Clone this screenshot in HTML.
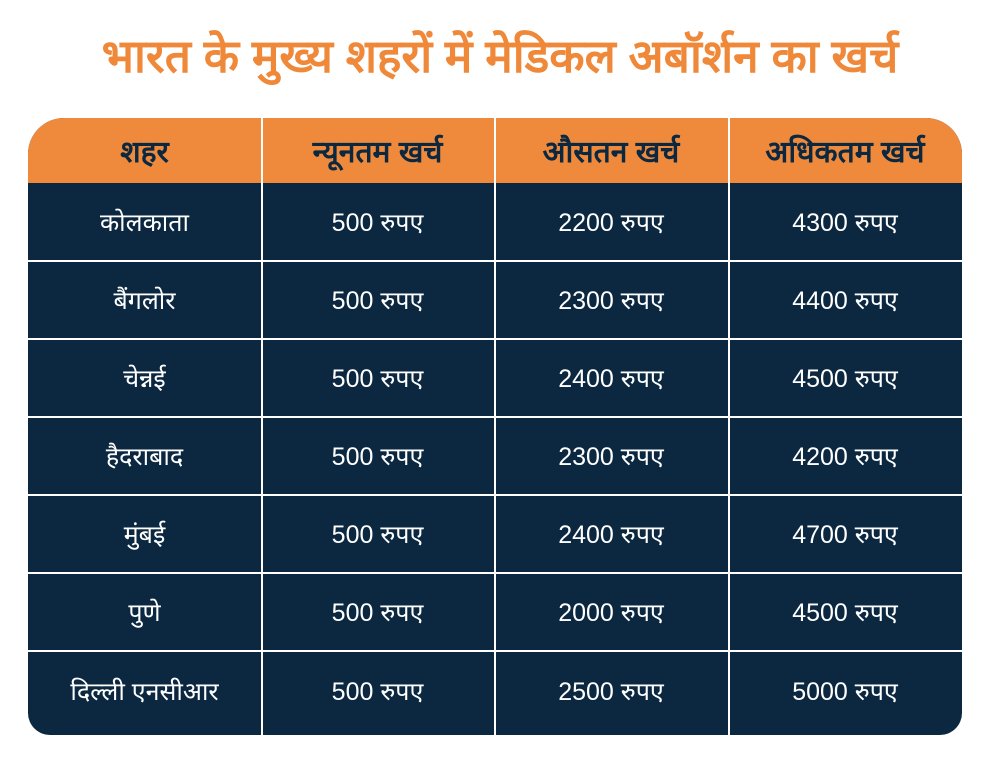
<!DOCTYPE html>
<html><head><meta charset="utf-8"><style>
body{margin:0;width:1000px;height:766px;background:#fff;font-family:"Liberation Sans","Noto Sans CJK SC",sans-serif;overflow:hidden;position:relative}
h1{position:absolute;top:24px;left:0;width:1000px;text-align:center;margin:0;color:#ef8838;font-size:46px;font-weight:bold}
.t{position:absolute;left:28px;top:118px;width:934px;height:617px;border-radius:36px 36px 22px 22px;overflow:hidden;background:#0b2840}
.r{position:absolute;left:0;width:934px;display:flex}
.c{height:100%;display:flex;align-items:center;justify-content:center;color:#fff;font-size:25px}
.h{top:0;height:65px;background:#ef8a3c}
.h .c{color:#0b2840;font-weight:bold;font-size:30px}
.c1{width:233px}.c2{width:233px}.c3{width:234px}.c4{width:234px}
.vl{position:absolute;top:0;width:2px;height:617px;background:#fff}
.hl{position:absolute;left:0;width:934px;height:2px;background:#fff}
</style></head><body>
<h1>भारत के मुख्य शहरों में मेडिकल अबॉर्शन का खर्च</h1>
<div class="t">
<div class="r h"><div class="c c1">शहर</div><div class="c c2">न्यूनतम खर्च</div><div class="c c3">औसतन खर्च</div><div class="c c4">अधिकतम खर्च</div></div>
<div class="r" style="top:65px;height:78px"><div class="c c1">कोलकाता</div><div class="c c2">500 रुपए</div><div class="c c3">2200 रुपए</div><div class="c c4">4300 रुपए</div></div>
<div class="r" style="top:143px;height:78px"><div class="c c1">बैंगलोर</div><div class="c c2">500 रुपए</div><div class="c c3">2300 रुपए</div><div class="c c4">4400 रुपए</div></div>
<div class="r" style="top:221px;height:78px"><div class="c c1">चेन्नई</div><div class="c c2">500 रुपए</div><div class="c c3">2400 रुपए</div><div class="c c4">4500 रुपए</div></div>
<div class="r" style="top:299px;height:78px"><div class="c c1">हैदराबाद</div><div class="c c2">500 रुपए</div><div class="c c3">2300 रुपए</div><div class="c c4">4200 रुपए</div></div>
<div class="r" style="top:377px;height:78px"><div class="c c1">मुंबई</div><div class="c c2">500 रुपए</div><div class="c c3">2400 रुपए</div><div class="c c4">4700 रुपए</div></div>
<div class="r" style="top:455px;height:78px"><div class="c c1">पुणे</div><div class="c c2">500 रुपए</div><div class="c c3">2000 रुपए</div><div class="c c4">4500 रुपए</div></div>
<div class="r" style="top:533px;height:80px"><div class="c c1">दिल्ली एनसीआर</div><div class="c c2">500 रुपए</div><div class="c c3">2500 रुपए</div><div class="c c4">5000 रुपए</div></div>
<div class="vl" style="left:233px"></div><div class="vl" style="left:466px"></div><div class="vl" style="left:700px"></div>
<div class="hl" style="top:142px"></div><div class="hl" style="top:220px"></div><div class="hl" style="top:298px"></div><div class="hl" style="top:376px"></div><div class="hl" style="top:454px"></div><div class="hl" style="top:532px"></div>
</div>
</body></html>
